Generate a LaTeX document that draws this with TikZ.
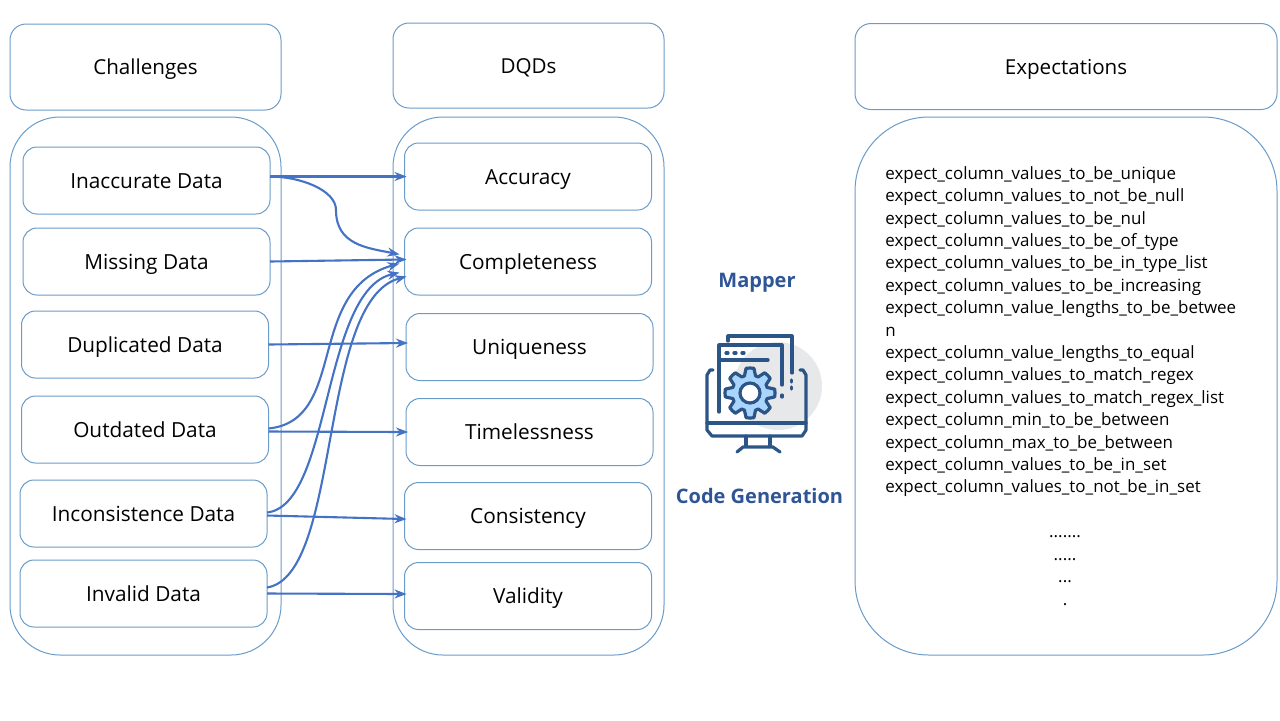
\documentclass[tikz,border=0pt]{standalone}
\usepackage{fontspec}
\setmainfont{Open Sans}
\usepackage{tikz}
\usetikzlibrary{calc, arrows.meta}
\definecolor{boxline}{HTML}{6A9CC9}
\definecolor{arrowline}{HTML}{4472C4}
\definecolor{titleblue}{HTML}{2F5597}
\definecolor{icondark}{HTML}{2B5487}
\definecolor{iconlight}{HTML}{A9D5FD}
\definecolor{icongrey}{HTML}{E7E8EA}
\tikzset{
    header/.style={draw=boxline,line width=0.5pt,rounded corners=8pt,minimum height=43pt,text height=9pt,text depth=1.5pt,font=\fontsize{10.3}{13}\selectfont},
    group/.style={draw=boxline,line width=0.5pt,rounded corners=25pt,minimum width=135.5pt,minimum height=269pt},
    item/.style={draw=boxline,line width=0.5pt,rounded corners=7pt,outer sep=0pt,minimum width=123.5pt,minimum height=33.5pt,text height=9pt,text depth=1.5pt,font=\fontsize{10.4}{13}\selectfont},
    link/.style={arrowline,line width=1.05pt,shorten >=-1pt,-{Stealth[length=6pt,width=4.5pt]}},
    iconline/.style={icondark,line width=1.6pt,line cap=round,line join=round},
    title/.style={titleblue,text height=9pt,text depth=1.5pt,font=\fontsize{10}{12}\selectfont\bfseries},
}
\begin{document}
\begin{tikzpicture}[x=0.5pt,y=-0.5pt]
    \useasboundingbox (0,0) rectangle (1280,720);
    \fill[white] (0,0) rectangle (1280,720);

    % column headers
    \node[header,minimum width=135.5pt] (challenges) at (145.5,67) {Challenges};
    \node[header,minimum width=135.5pt,minimum height=42.5pt] (dqds) at (528.5,65.5) {DQDs};
    \node[header,minimum width=211pt] (expectations) at (1066,66.5) {Expectations};

    % column frames
    \node[group] (challengebox) at (145.5,386) {};
    \node[group] (dqdbox) at (528.5,386) {};
    \node[group,minimum width=211pt,rounded corners=37pt] (expectbox) at (1066,386) {};

    % challenges
    \node[item] (inaccurate) at (146.5,180.5) {Inaccurate Data};
    \node[item] (missing) at (146.5,261.5) {Missing Data};
    \node[item] (duplicated) at (145,344.5) {Duplicated Data};
    \node[item] (outdated) at (145,429.5) {Outdated Data};
    \node[item] (inconsistence) at (143.5,513.5) {Inconsistence Data};
    \node[item] (invalid) at (143.5,593.5) {Invalid Data};

    % data quality dimensions
    \node[item] (accuracy) at (528,176.5) {Accuracy};
    \node[item] (completeness) at (528,261.5) {Completeness};
    \node[item] (uniqueness) at (529.5,347) {Uniqueness};
    \node[item] (timelessness) at (529.5,432) {Timelessness};
    \node[item] (consistency) at (528,516) {Consistency};
    \node[item] (validity) at (528,596) {Validity};

    % straight links
    \draw[link] ([yshift=2pt]inaccurate.east) -- (accuracy.west);
    \draw[link] (missing.east) -- ([yshift=1pt]completeness.west);
    \draw[link] (duplicated.east) -- ([yshift=2pt]uniqueness.west);
    \draw[link] ([yshift=-1pt]outdated.east) -- (timelessness.west);
    \draw[link] ([yshift=-1pt]inconsistence.east) -- ([yshift=-1.5pt]consistency.west);
    \draw[link] (invalid.east) -- ([yshift=1pt]validity.west);

    % curved links into completeness
    \draw[link] ([yshift=2pt]inaccurate.east) .. controls +(30,0) and +(0,-20) .. (336,210)
        .. controls +(0,35) and +(-30,-6) .. ([xshift=-3.5pt,yshift=3.75pt]completeness.west);
    \draw[link] ([yshift=0.5pt]outdated.east) .. controls +(80,-8) and +(-93,26) .. ([xshift=-3.5pt,yshift=-1.25pt]completeness.west);
    \draw[link] ([yshift=0.5pt]inconsistence.east) .. controls +(65,-7) and +(-76,17) .. ([xshift=-3.5pt,yshift=-5.75pt]completeness.west);
    \draw[link] ([yshift=3pt]invalid.east) .. controls +(75,-12) and +(-87,23) .. ([yshift=-7.75pt]completeness.west);

    % mapper
    \node[title] (mapper) at (757,280) {Mapper};
    \node[title] (codegen) at (759.5,496) {Code Generation};

    \fill[icongrey] (778,386) circle (22pt);
    \draw[iconline] (728,341) -- (728,336) -- (792,336) -- (792,373);
    \draw[iconline] (791.5,380) -- (791.5,382) (791.5,387) -- (791.5,389);
    \draw[iconline] (719,412) -- (719,345) -- (782,345) -- (782,385);
    \draw[iconline] (782,395) -- (782,397);
    \draw[iconline] (726,353) -- (728,353) (734,353) -- (736,353) (742,353) -- (744,353);
    \draw[iconline] (719,360) -- (768,360);
    \draw[iconline] (713,370) -- (710,370) -- (707,375) -- (707,430) -- (712,436) -- (802,436) -- (806,430) -- (806,375) -- (803,370) -- (800,370);
    \draw[iconline] (707,423) -- (806,423);
    \draw[iconline] (746,436) -- (746,446) (770,436) -- (770,446);
    \draw[iconline] (737,452) -- (743,447) -- (773,447) -- (780,452);
    \draw[iconline,fill=iconlight]
        plot[samples at={0,...,39},variable=\i] ({750+(mod(\i,5)<2.5 ? 25 : 18)*cos(9*\i-9)},{393+(mod(\i,5)<2.5 ? 25 : 18)*sin(9*\i-9)}) -- cycle;
    \draw[iconline,fill=white] (750,393) circle (5pt);

    % expectation list
    \node[anchor=north west,inner sep=0pt,align=left,font=\fontsize{8.47}{11.2}\selectfont] (expectlist) at (885,166) {%
        expect\_column\_values\_to\_be\_unique\\
        expect\_column\_values\_to\_not\_be\_null\\
        expect\_column\_values\_to\_be\_nul\\
        expect\_column\_values\_to\_be\_of\_type\\
        expect\_column\_values\_to\_be\_in\_type\_list\\
        expect\_column\_values\_to\_be\_increasing\\
        expect\_column\_value\_lengths\_to\_be\_betwee\\
        n\\
        expect\_column\_value\_lengths\_to\_equal\\
        expect\_column\_values\_to\_match\_regex\\
        expect\_column\_values\_to\_match\_regex\_list\\
        expect\_column\_min\_to\_be\_between\\
        expect\_column\_max\_to\_be\_between\\
        expect\_column\_values\_to\_be\_in\_set\\
        expect\_column\_values\_to\_not\_be\_in\_set};
    \node[anchor=north,inner sep=0pt,align=center,font=\fontsize{8.47}{11.3}\selectfont] (expectdots) at (1065,535) {.......\\.....\\...\\.};
\end{tikzpicture}
\end{document}
